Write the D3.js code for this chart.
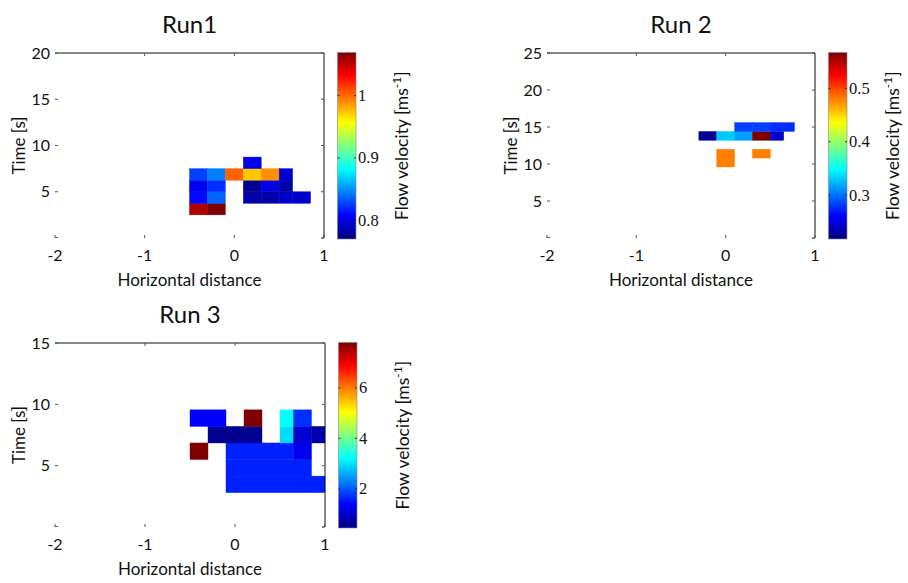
<!DOCTYPE html>
<html>
<head>
<meta charset="utf-8">
<script src="https://cdn.jsdelivr.net/npm/d3@7"></script>
<style>
    body { margin: 0; background: #fff; }
    .title { font-family: Lato, "Open Sans", sans-serif; font-size: 24px; fill: #111; }
    .tick-lbl { font-family: Lato, "Open Sans", sans-serif; font-size: 16px; fill: #111; }
    .axis-lbl { font-family: Lato, "Open Sans", sans-serif; font-size: 17px; fill: #111; }
    .cb-title { font-family: Lato, "Open Sans", sans-serif; font-size: 17.5px; fill: #111; }
    .cb-lbl { font-family: "Liberation Serif", "DejaVu Serif", serif; font-size: 16.5px; fill: #111; }
</style>
</head>
<body>
<div id="chart"></div>
<script>
// ---- data (extents in data units: x0, x1, t0, t1, velocity) ----
const xTicks = [-2, -1, 0, 1];
const run1YTicks = [5, 10, 15, 20];
const run2YTicks = [5, 10, 15, 20, 25];
const run3YTicks = [5, 10, 15];
const run1CbTicks = [0.8, 0.9, 1];
const run2CbTicks = [0.3, 0.4, 0.5];
const run3CbTicks = [2, 4, 6];
const run1Range = [0.77, 1.069];
const run2Range = [0.218, 0.567];
const run3Range = [0.44, 7.8];

const run1Cells = [
    [-0.5, -0.3, 2.5, 3.75, 1.055], [-0.3, -0.1, 2.5, 3.75, 1.069],
    [-0.5, -0.3, 3.75, 5, 0.809], [-0.3, -0.1, 3.75, 5, 0.836],
    [0.1, 0.3, 3.75, 5, 0.782], [0.3, 0.5, 3.75, 5, 0.781],
    [0.5, 0.65, 3.75, 5, 0.792], [0.65, 0.85, 3.75, 5, 0.792],
    [-0.5, -0.3, 5, 6.25, 0.803], [-0.3, -0.1, 5, 6.25, 0.821],
    [0.1, 0.3, 5, 6.25, 0.775], [0.3, 0.5, 5, 6.25, 0.800],
    [0.5, 0.65, 5, 6.25, 0.782],
    [-0.5, -0.3, 6.25, 7.5, 0.826], [-0.3, -0.1, 6.25, 7.5, 0.845],
    [-0.1, 0.1, 6.25, 7.5, 1.003], [0.1, 0.3, 6.25, 7.5, 0.973],
    [0.3, 0.5, 6.25, 7.5, 0.990], [0.5, 0.65, 6.25, 7.5, 0.794],
    [0.1, 0.3, 7.5, 8.75, 0.803]
];
const run2Cells = [
    [-0.1, 0.1, 9.6, 10.8, 0.480], [-0.1, 0.1, 10.8, 12.0, 0.480],
    [0.3, 0.5, 10.8, 12.0, 0.480],
    [-0.3, -0.1, 13.2, 14.4, 0.224], [-0.1, 0.1, 13.2, 14.4, 0.331],
    [0.1, 0.3, 13.2, 14.4, 0.316], [0.3, 0.5, 13.2, 14.4, 0.567],
    [0.5, 0.65, 13.2, 14.4, 0.242],
    [0.1, 0.3, 14.4, 15.6, 0.284], [0.3, 0.5, 14.4, 15.6, 0.284],
    [0.5, 0.77, 14.4, 15.6, 0.277]
];
const run3Cells = [
    [-0.1, 1.0, 2.8, 4.15, 1.59],
    [-0.1, 0.85, 4.15, 5.5, 1.59],
    [-0.5, -0.3, 5.5, 6.85, 7.8], [-0.1, 0.65, 5.5, 6.85, 1.59],
    [0.65, 0.85, 5.5, 6.85, 1.25],
    [-0.3, -0.1, 6.85, 8.2, 0.56], [-0.1, 0.1, 6.85, 8.2, 0.56],
    [0.1, 0.3, 6.85, 8.2, 0.56], [0.5, 0.65, 6.85, 8.2, 2.94],
    [0.65, 0.85, 6.85, 8.2, 1.03], [0.85, 1.0, 6.85, 8.2, 0.72],
    [-0.5, -0.3, 8.2, 9.55, 1.36], [-0.3, -0.1, 8.2, 9.55, 1.36],
    [0.1, 0.3, 8.2, 9.55, 7.8], [0.5, 0.65, 8.2, 9.55, 3.2],
    [0.65, 0.85, 8.2, 9.55, 1.69]
];

// ---- layout ----
const panels = [
    { title: "Run1", cells: run1Cells, yMax: 20, yTicks: run1YTicks, range: run1Range, cbTicks: run1CbTicks,
      left: 55, right: 324, top: 53, bottom: 238 },
    { title: "Run 2", cells: run2Cells, yMax: 25, yTicks: run2YTicks, range: run2Range, cbTicks: run2CbTicks,
      left: 547, right: 815, top: 53, bottom: 238 },
    { title: "Run 3", cells: run3Cells, yMax: 15, yTicks: run3YTicks, range: run3Range, cbTicks: run3CbTicks,
      left: 55, right: 325, top: 343, bottom: 527 }
];

// MATLAB jet colormap
function jet(t) {
    t = Math.max(0, Math.min(1, t));
    let c = v => Math.round(255 * Math.max(0, Math.min(1, v)));
    let r = Math.min(4 * t - 1.5, -4 * t + 4.5);
    let g = Math.min(4 * t - 0.5, -4 * t + 3.5);
    let b = Math.min(4 * t + 0.5, -4 * t + 2.5);
    return d3.rgb(c(r), c(g), c(b)).toString();
}

const svg = d3.select("#chart").append("svg")
    .attr("width", 908)
    .attr("height", 583);

const defs = svg.append("defs");
let gradient = defs.append("linearGradient")
    .attr("id", "jetGrad")
    .attr("x1", 0).attr("y1", 1).attr("x2", 0).attr("y2", 0);
d3.range(0, 1.0001, 1 / 64).forEach(t => {
    gradient.append("stop").attr("offset", t).attr("stop-color", jet(t));
});

panels.forEach(p => {
    let g = svg.append("g");

    let x = d3.scaleLinear().domain([-2, 1]).range([p.left, p.right]);
    let y = d3.scaleLinear().domain([0, p.yMax]).range([p.bottom, p.top]);
    let color = d3.scaleLinear().domain(p.range).range([0, 1]);

    // cells
    g.selectAll("rect.cell")
        .data(p.cells)
        .enter()
        .append("rect")
        .attr("class", "cell")
        .attr("x", d => x(d[0]))
        .attr("width", d => x(d[1]) - x(d[0]))
        .attr("y", d => y(d[3]))
        .attr("height", d => y(d[2]) - y(d[3]))
        .attr("fill", d => jet(color(d[4])))
        .attr("stroke", d => jet(color(d[4])))
        .attr("stroke-width", 0.4);

    // box: only top and right edges are visible in the original
    g.append("path")
        .attr("d", `M${p.left},${p.top}H${p.right}V${p.bottom}H${p.right - 3}`)
        .attr("fill", "none")
        .attr("stroke", "#111")
        .attr("stroke-width", 1);

    // x ticks (inside, bottom and top)
    xTicks.forEach(v => {
        g.append("line")
            .attr("x1", x(v)).attr("x2", x(v))
            .attr("y1", p.bottom).attr("y2", p.bottom - 3)
            .attr("stroke", "#555");
        if (v > -2 && v < 1) {
            g.append("line")
                .attr("x1", x(v)).attr("x2", x(v))
                .attr("y1", p.top).attr("y2", p.top + 3)
                .attr("stroke", "#555");
        }
    });
    g.selectAll("text.xt")
        .data(xTicks)
        .enter()
        .append("text")
        .attr("class", "tick-lbl")
        .attr("x", d => x(d))
        .attr("y", p.bottom + 23)
        .attr("text-anchor", "middle")
        .text(d => d);

    // y ticks
    p.yTicks.forEach(v => {
        g.append("line")
            .attr("x1", p.left).attr("x2", p.left + 3)
            .attr("y1", y(v)).attr("y2", y(v))
            .attr("stroke", "#555");
        g.append("line")
            .attr("x1", p.right).attr("x2", p.right - 3)
            .attr("y1", y(v)).attr("y2", y(v))
            .attr("stroke", "#555");
    });
    g.append("line")
        .attr("x1", p.left).attr("x2", p.left + 3)
        .attr("y1", p.bottom - 0.5).attr("y2", p.bottom - 0.5)
        .attr("stroke", "#555");
    g.selectAll("text.yt")
        .data(p.yTicks)
        .enter()
        .append("text")
        .attr("class", "tick-lbl")
        .attr("x", p.left - 5)
        .attr("y", d => y(d) + 5.5)
        .attr("text-anchor", "end")
        .text(d => d);

    // titles and axis labels
    g.append("text")
        .attr("class", "title")
        .attr("x", (p.left + p.right) / 2)
        .attr("y", p.top - 20)
        .attr("text-anchor", "middle")
        .text(p.title);

    g.append("text")
        .attr("class", "axis-lbl")
        .attr("x", (p.left + p.right) / 2)
        .attr("y", p.bottom + 48)
        .attr("text-anchor", "middle")
        .text("Horizontal distance");

    g.append("text")
        .attr("class", "axis-lbl")
        .attr("transform", `translate(${p.left - 30},${(p.top + p.bottom) / 2}) rotate(-90)`)
        .attr("text-anchor", "middle")
        .text("Time [s]");

    // colorbar
    let cbLeft = p.right + 13.5, cbW = 18.5;
    let cbTop = p.top - 0.5, cbBottom = p.bottom + 1;
    let cy = d3.scaleLinear().domain(p.range).range([cbBottom, cbTop]);

    g.append("rect")
        .attr("x", cbLeft).attr("y", cbTop)
        .attr("width", cbW).attr("height", cbBottom - cbTop)
        .attr("fill", "url(#jetGrad)")
        .attr("stroke", "#888")
        .attr("stroke-width", 0.6);

    p.cbTicks.forEach(v => {
        g.append("line")
            .attr("x1", cbLeft).attr("x2", cbLeft + 2)
            .attr("y1", cy(v)).attr("y2", cy(v))
            .attr("stroke", "#333");
        g.append("line")
            .attr("x1", cbLeft + cbW).attr("x2", cbLeft + cbW - 2)
            .attr("y1", cy(v)).attr("y2", cy(v))
            .attr("stroke", "#333");
        g.append("text")
            .attr("class", "cb-lbl")
            .attr("x", cbLeft + cbW + 2)
            .attr("y", cy(v) + 5.5)
            .text(v);
    });

    let lbl = g.append("text")
        .attr("class", "cb-title")
        .attr("transform", `translate(${cbLeft + cbW + 52},${(cbTop + cbBottom) / 2}) rotate(-90)`)
        .attr("text-anchor", "middle");
    lbl.append("tspan").text("Flow velocity [ms");
    lbl.append("tspan").attr("dy", -7).attr("font-size", "12px").text("-1");
    lbl.append("tspan").attr("dy", 7).text("]");
});
</script>
</body>
</html>
